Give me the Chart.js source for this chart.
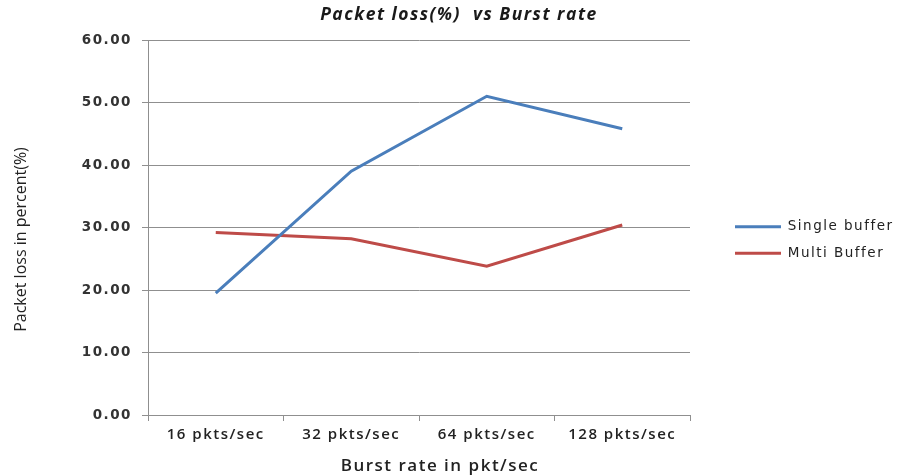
<!DOCTYPE html>
<html>
<head>
<meta charset="utf-8">
<script src="https://cdn.jsdelivr.net/npm/chart.js@4/dist/chart.umd.min.js"></script>
<style>
  html, body { margin: 0; padding: 0; background: #ffffff; }
  #wrap { width: 900px; height: 476px; }
</style>
</head>
<body>
<div id="wrap"><canvas id="c" width="900" height="476"></canvas></div>
<script>
// Burst rates on the x axis and packet loss (%) for each buffering scheme
const categories = ['16 pkts/sec', '32 pkts/sec', '64 pkts/sec', '128 pkts/sec'];
const singleBuffer = [19.5, 39.0, 51.0, 45.8];
const multiBuffer = [29.2, 28.2, 23.8, 30.4];
const yTickValues = [0, 10, 20, 30, 40, 50, 60];

const GRID = '#8f8f8f';
const TEXT = '#222222';
const SPACING = '1.5px';

// Runs a draw method with its own letter spacing and offset
function wrapDraw(obj, name, spacing, dx, dy) {
  if (!obj || obj['_wrapped_' + name]) return;
  const orig = obj[name].bind(obj);
  obj[name] = function (...args) {
    const ctx = this.ctx;
    ctx.save();
    ctx.letterSpacing = spacing;
    ctx.translate(dx, dy);
    const r = orig(...args);
    ctx.restore();
    return r;
  };
  obj['_wrapped_' + name] = true;
}

// Wide letter spacing for the horizontal texts; the rotated axis title keeps normal spacing
const textSpacing = {
  id: 'textSpacing',
  beforeLayout(chart) { chart.ctx.letterSpacing = SPACING; },
  beforeDraw(chart) { chart.ctx.letterSpacing = SPACING; },
  afterLayout(chart) {
    wrapDraw(chart.scales.y, 'drawTitle', '0px', -1, 12);
    wrapDraw(chart.scales.x, 'drawTitle', SPACING, 21, 0);
    wrapDraw(chart.titleBlock, 'draw', SPACING, 9, 0);
  }
};

// Fixes the legend column width and moves its items to the right of the plot
const legendPlacement = {
  id: 'legendPlacement',
  afterInit(chart) {
    const lg = chart.legend;
    const fit = lg.fit.bind(lg);
    lg.fit = function () { fit(); this.width = 210; };
  },
  afterLayout(chart) {
    const lg = chart.legend;
    lg.left += 32;
    lg.right += 32;
    lg.top += 2;
    lg.bottom += 2;
  }
};

new Chart(document.getElementById('c'), {
  type: 'line',
  data: {
    labels: categories,
    datasets: [
      {
        label: 'Single buffer',
        data: singleBuffer,
        borderColor: '#4A7EBB',
        backgroundColor: '#4A7EBB',
        borderWidth: 3,
        pointRadius: 0,
        tension: 0
      },
      {
        label: 'Multi Buffer',
        data: multiBuffer,
        borderColor: '#BE4B48',
        backgroundColor: '#BE4B48',
        borderWidth: 3,
        pointRadius: 0,
        tension: 0
      }
    ]
  },
  options: {
    responsive: false,
    animation: false,
    devicePixelRatio: 1,
    layout: { padding: 0 },
    plugins: {
      title: {
        display: true,
        text: 'Packet loss(%)  vs Burst rate',
        color: '#1a1a1a',
        font: { family: 'Open Sans', size: 17.5, weight: 'bold', style: 'italic' },
        padding: { top: 5, bottom: 14 }
      },
      legend: {
        display: true,
        position: 'right',
        align: 'center',
        labels: {
          usePointStyle: true,
          pointStyle: 'line',
          pointStyleWidth: 46,
          color: TEXT,
          font: { family: 'DejaVu Sans', size: 13.5 },
          padding: 13
        }
      },
      tooltip: { enabled: false }
    },
    scales: {
      x: {
        offset: true,
        grid: { display: true, drawOnChartArea: false, offset: true, tickLength: 6, color: GRID },
        border: { color: GRID, width: 1 },
        ticks: {
          color: TEXT,
          font: { family: 'Open Sans', size: 15, weight: '600' },
          padding: 5,
          maxRotation: 0
        },
        title: {
          display: true,
          text: 'Burst rate in pkt/sec',
          color: TEXT,
          font: { family: 'Open Sans', size: 17, weight: '600' },
          padding: { top: 0, bottom: 0 }
        },
        afterFit(scale) { scale.height = 61; }
      },
      y: {
        min: 0,
        max: 60,
        afterBuildTicks(scale) { scale.ticks = yTickValues.map(v => ({ value: v })); },
        grid: { color: GRID, tickLength: 6 },
        border: { color: GRID, width: 1 },
        ticks: {
          color: '#333333',
          font: { family: 'DejaVu Sans', size: 13.5, weight: 'bold' },
          padding: 10,
          callback: v => Number(v).toFixed(2)
        },
        title: {
          display: true,
          text: 'Packet loss in percent(%)',
          color: TEXT,
          font: { family: 'Open Sans', size: 16 },
          padding: { top: 13, bottom: 0 }
        },
        afterFit(scale) { scale.width = 148; }
      }
    }
  },
  plugins: [textSpacing, legendPlacement]
});
</script>
</body>
</html>
